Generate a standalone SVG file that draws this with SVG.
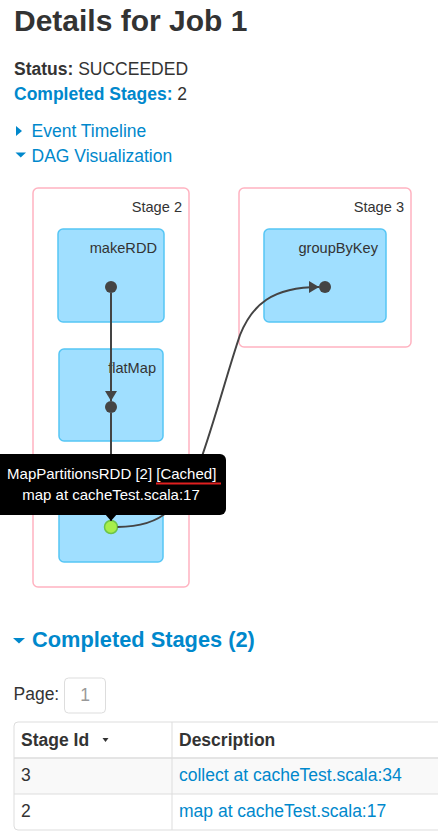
<svg xmlns="http://www.w3.org/2000/svg" width="438" height="834" viewBox="0 0 438 834">
<defs>
<style>
text{font-family:"Liberation Sans",Arial,sans-serif;fill:#333}
.title{font-size:30px;font-weight:bold}
.body{font-size:17.5px}
.b{font-weight:bold}
.link{fill:#0088cc}
.cluster{fill:#fff;stroke:#ffb3c1;stroke-width:1.5}
.node rect{fill:#a0dfff;stroke:#56c6f5;stroke-width:1.5}
.lbl{font-size:14.6px;text-anchor:end}
.dot{fill:#444}
.edge{fill:none;stroke:#444;stroke-width:2}
.tip{font-size:15px;fill:#fff;text-anchor:middle}
.cell{font-size:17.5px}
</style>
<marker id="arr" viewBox="0 0 10 12" refX="10" refY="6" markerWidth="10" markerHeight="12" markerUnits="userSpaceOnUse" orient="auto">
<path d="M0,0 L10,6 L0,12 z" fill="#444"/>
</marker>
</defs>
<rect width="438" height="834" fill="#fff"/>

<text class="title" x="14" y="31">Details for Job 1</text>
<text class="body" x="14" y="75"><tspan class="b">Status:</tspan> SUCCEEDED</text>
<text class="body" x="14" y="100"><tspan class="b link">Completed Stages:</tspan> 2</text>
<path d="M16,126 L22,131 L16,136 z" fill="#0088cc"/>
<text class="body link" x="31.5" y="137">Event Timeline</text>
<path d="M15.5,152.5 L26,152.5 L20.75,157.5 z" fill="#0088cc"/>
<text class="body link" x="31.5" y="162">DAG Visualization</text>

<g id="stage2">
<rect class="cluster" x="33" y="188" width="156" height="399" rx="5"/>
<text class="lbl" x="182" y="212">Stage 2</text>
</g>
<g id="stage3">
<rect class="cluster" x="239" y="188" width="172" height="159" rx="5"/>
<text class="lbl" x="404" y="212">Stage 3</text>
</g>

<g id="makeRDD" class="node">
<rect x="58" y="229" width="106" height="93" rx="5"/>
<text class="lbl" x="157" y="253">makeRDD</text>
<circle class="dot" cx="111" cy="287" r="6"/>
</g>
<g id="flatMap" class="node">
<rect x="59" y="349" width="104" height="92" rx="5"/>
<text class="lbl" x="156" y="373">flatMap</text>
<circle class="dot" cx="111" cy="407" r="6"/>
</g>
<g id="map" class="node">
<rect x="59" y="469" width="104" height="93" rx="5"/>
<circle cx="111" cy="527" r="6.5" fill="#a8ee4a" stroke="#6cc44a" stroke-width="1.5"/>
</g>
<g id="groupByKey" class="node">
<rect x="264" y="229" width="122" height="93" rx="5"/>
<text class="lbl" x="378" y="253">groupByKey</text>
<circle class="dot" cx="325" cy="287" r="6"/>
</g>

<g id="edges">
<path class="edge" d="M111,293 L111,401" marker-end="url(#arr)"/>
<path class="edge" d="M111,413 L111,521"/>
<path class="edge" d="M117.5,527 C165,527 180,505 200,462 C215,420 228,370 240,335 C252,305 272,287 319,287" marker-end="url(#arr)"/>
</g>

<g id="tooltip">
<rect x="-6" y="454" width="232" height="61" rx="6" fill="#000"/>
<path d="M105,514 L117,514 L111,521 z" fill="#000"/>
<text class="tip" x="111.7" y="479">MapPartitionsRDD [2] [Cached]</text>
<text class="tip" x="111" y="500">map at cacheTest.scala:17</text>
<line x1="156" y1="483.5" x2="221" y2="483.5" stroke="#e02020" stroke-width="2"/>
</g>

<path d="M13,638 L25,638 L19,643.5 z" fill="#0088cc"/>
<text x="32" y="647" style="font-size:21.8px;font-weight:bold;fill:#0088cc">Completed Stages (2)</text>

<text class="body" x="13.5" y="700">Page:</text>
<rect x="64.5" y="678" width="41" height="35" rx="4" fill="#fff" stroke="#ddd"/>
<text class="body" x="85" y="701" text-anchor="middle" style="fill:#999">1</text>

<g id="table">
<rect x="14" y="758" width="440" height="36" fill="#f9f9f9"/>
<path d="M460,722 L18,722 Q14,722 14,726 L14,826 Q14,830 18,830 L460,830" fill="none" stroke="#ddd" stroke-width="1"/>
<line x1="14" y1="758" x2="438" y2="758" stroke="#ddd" stroke-width="1.5"/>
<line x1="14" y1="794" x2="438" y2="794" stroke="#ddd" stroke-width="1"/>
<line x1="172" y1="722" x2="172" y2="830" stroke="#ddd" stroke-width="1"/>
<text class="cell b" x="21" y="746">Stage Id</text>
<path d="M102.5,738 L108.5,738 L105.5,742 z" fill="#333"/>
<text class="cell b" x="179" y="746">Description</text>
<text class="cell" x="21" y="781">3</text>
<text class="cell link" x="179" y="781">collect at cacheTest.scala:34</text>
<text class="cell" x="21" y="817">2</text>
<text class="cell link" x="179" y="817">map at cacheTest.scala:17</text>
</g>
</svg>
